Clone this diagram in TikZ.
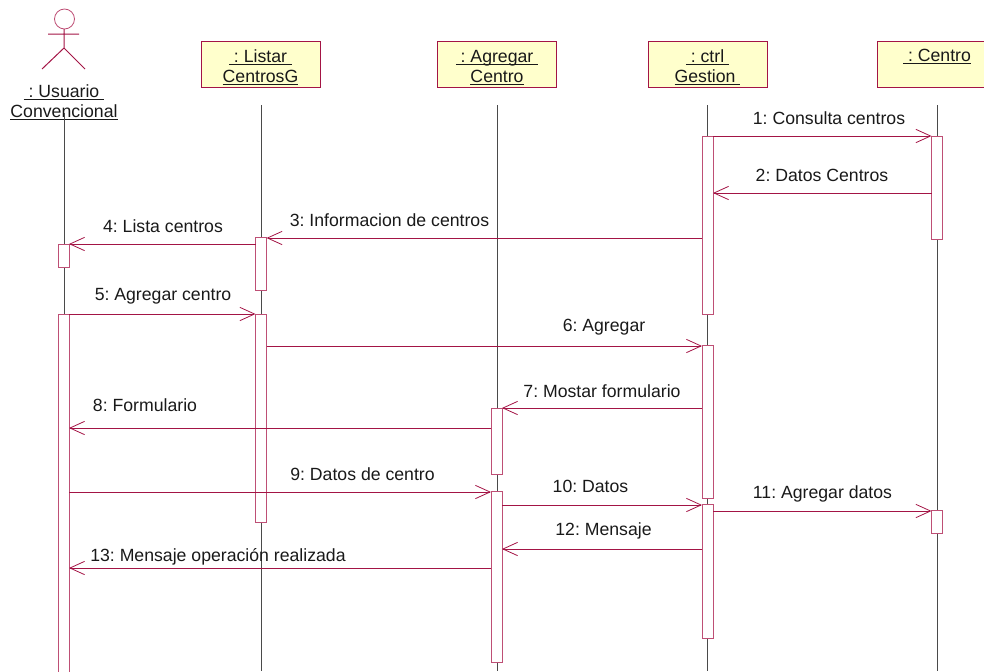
\documentclass[tikz,border=0pt]{standalone}
\usepackage{fontspec}
\setmainfont{Liberation Sans}
\frenchspacing
\usetikzlibrary{arrows.meta}
\definecolor{umlline}{HTML}{A31445}
\definecolor{umlbar}{HTML}{BE4F75}
\definecolor{umlfill}{HTML}{FFFFCC}
\definecolor{lifegray}{HTML}{4A4A4A}
\newcommand\ulx[1]{$\underline{\hbox{\vphantom{X}\smash{#1}}}$}
\newcommand\boxtop{\rule{0pt}{15pt}}
\newcommand\actbar[4]{\node[actbarstyle, minimum height=(#4-#3)*0.75pt] (#1) at (#2,{(#3+#4)/2}) {};}
\tikzset{
  x=0.75pt, y=-0.75pt,
  every node/.style={font=\fontsize{13.25}{15}\selectfont, text=black!90, inner sep=0pt, outer sep=0pt},
  objbox/.style={draw=umlline, fill=umlfill, line width=0.75pt, minimum width=119*0.75pt, minimum height=46*0.75pt, align=center},
  actorlabel/.style={align=center},
  lifeline/.style={draw=lifegray, line width=0.7pt},
  actbarstyle/.style={draw=umlbar, fill=white, line width=0.75pt, minimum width=11*0.75pt},
  msg/.style={draw=umlline, line width=0.7pt, -{Straight Barb[length=11pt,width=10pt,line width=0.6pt]}},
  msglabel/.style={anchor=center},
  actorline/.style={draw=umlline, line width=0.75pt},
}
\begin{document}
\begin{tikzpicture}
\clip (0,0) rectangle (984,671);
% actor
\node[circle, draw=umlbar, line width=0.6pt, minimum size=20*0.75pt] (head) at (64.5,19) {};
\coordinate (neck) at (64,29);
\coordinate (hip) at (64,48);
\coordinate (armL) at (48,34);
\coordinate (armR) at (79,34);
\coordinate (legL) at (42,69);
\coordinate (legR) at (85,69);
\draw[actorline] (neck) -- (hip) (armL) -- (armR) (legL) -- (hip) -- (legR);
% object boxes
\node[objbox] (listar) at (260.5,64) {\boxtop\ulx{\ : Listar\ }\\\ulx{CentrosG}};
\node[objbox] (agregar) at (497,64) {\boxtop\ulx{\ : Agregar\ }\\\ulx{Centro}};
\node[objbox] (ctrl) at (707.5,64) {\boxtop\ulx{\ : ctrl\ }\\\ulx{Gestion\ }};
\node[objbox] (centro) at (937,64) {\boxtop\ulx{\ : Centro}\\\strut};
% lifeline anchors
\node[actorlabel] (usuario) at (64,103) {\ulx{\ : Usuario\ }\\\ulx{Convencional}};
\coordinate (uEnd) at (64,671);
\coordinate (uTop) at (64,113);
\coordinate (lTop) at (261,105);
\coordinate (lEnd) at (261,671);
\coordinate (aTop) at (497,105);
\coordinate (aEnd) at (497,671);
\coordinate (cTop) at (707,105);
\coordinate (cEnd) at (707,671);
\coordinate (eTop) at (937,105);
\coordinate (eEnd) at (937,671);
\draw[lifeline] (uTop) -- (uEnd);
\draw[lifeline] (lTop) -- (lEnd);
\draw[lifeline] (aTop) -- (aEnd);
\draw[lifeline] (cTop) -- (cEnd);
\draw[lifeline] (eTop) -- (eEnd);
% activations
\actbar{uA}{63.5}{244}{267}
\actbar{uB}{63.5}{314}{680}
\actbar{lA}{261}{237}{290}
\actbar{lB}{261}{314}{522}
\actbar{aA}{496.5}{408}{474}
\actbar{aB}{496.5}{491}{662}
\actbar{cA}{707.5}{136}{314}
\actbar{cB}{707.5}{345}{498}
\actbar{cC}{707.5}{504}{638}
\actbar{eA}{937}{136}{239}
\actbar{eB}{937}{510}{533}
% messages
\draw[msg] (cA.east |- 0,136) -- (eA.west |- 0,136);
\draw[msg] (eA.west |- 0,193) -- (cA.east |- 0,193);
\draw[msg] (cA.west |- 0,238) -- (lA.east |- 0,238);
\draw[msg] (lA.west |- 0,244) -- (uA.east |- 0,244);
\draw[msg] (uB.east |- 0,314) -- (lB.west |- 0,314);
\draw[msg] (lB.east |- 0,346) -- (cB.west |- 0,346);
\draw[msg] (cB.west |- 0,408) -- (aA.east |- 0,408);
\draw[msg] (aA.west |- 0,428) -- (uB.east |- 0,428);
\draw[msg] (uB.east |- 0,492) -- (aB.west |- 0,492);
\draw[msg] (aB.east |- 0,505) -- (cC.west |- 0,505);
\draw[msg] (cC.east |- 0,511) -- (eB.west |- 0,511);
\draw[msg] (cC.west |- 0,549) -- (aB.east |- 0,549);
\draw[msg] (aB.west |- 0,568) -- (uB.east |- 0,568);
% labels
\node[msglabel] (m1) at (829,118) {1: Consulta centros};
\node[msglabel] (m2) at (822,175) {2: Datos Centros};
\node[msglabel] (m3) at (389.5,220) {3: Informacion de centros};
\node[msglabel] (m4) at (163,226) {4: Lista centros};
\node[msglabel] (m5) at (163,296) {5: Agregar centro};
\node[msglabel] (m6) at (604,327.5) {6: Agregar};
\node[msglabel] (m7) at (602,391) {7: Mostar formulario};
\node[msglabel] (m8) at (145,405) {8: Formulario};
\node[msglabel] (m9) at (362.5,474) {9: Datos de centro};
\node[msglabel] (m10) at (590.5,486.5) {10: Datos};
\node[msglabel] (m11) at (822.5,494) {11: Agregar datos};
\node[msglabel] (m12) at (603.5,531) {12: Mensaje};
\node[msglabel] (m13) at (218,557) {13: Mensaje operación realizada};
\end{tikzpicture}
\end{document}
